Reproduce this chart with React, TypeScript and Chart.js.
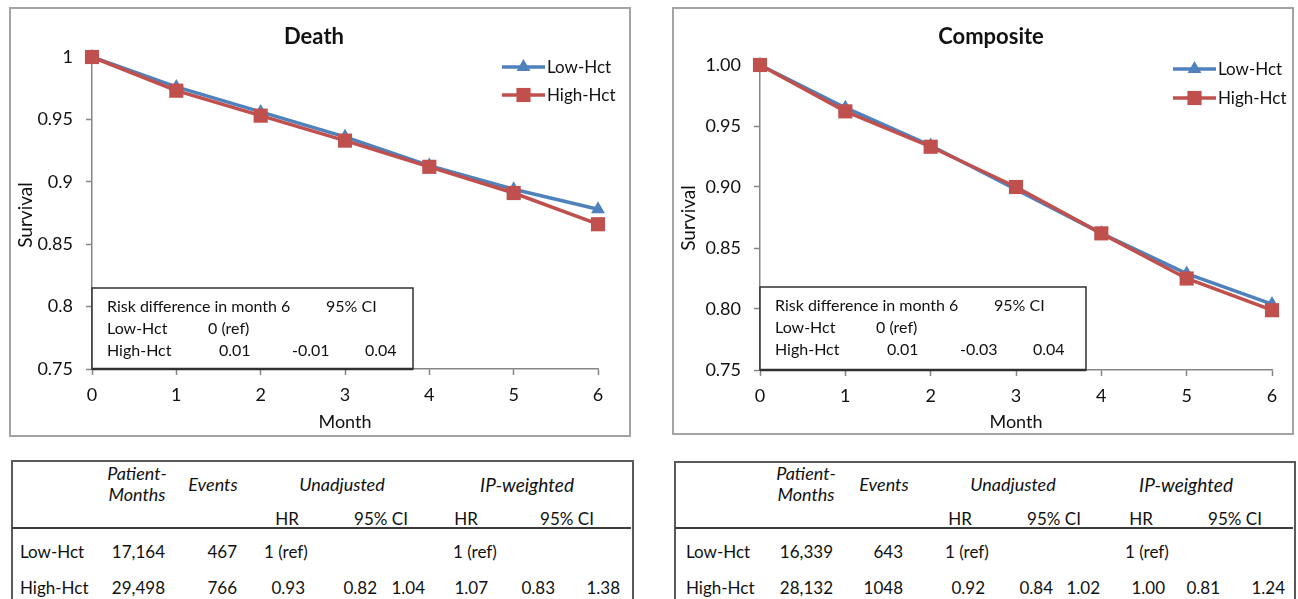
import React, { useEffect, useRef } from "react";
import { Chart, registerables } from "chart.js";

Chart.register(...registerables);

// ---------------- data ----------------
const months = [0, 1, 2, 3, 4, 5, 6];
const seriesNames = ["Low-Hct", "High-Hct"];

const deathLow = [1, 0.976, 0.956, 0.936, 0.913, 0.894, 0.878];
const deathHigh = [1, 0.973, 0.953, 0.933, 0.912, 0.891, 0.866];

const compositeLow = [1, 0.965, 0.934, 0.898, 0.862, 0.829, 0.804];
const compositeHigh = [1, 0.962, 0.933, 0.9, 0.862, 0.825, 0.799];

const deathYTickLabels = ["0.75", "0.8", "0.85", "0.9", "0.95", "1"];
const compositeYTickLabels = ["0.75", "0.80", "0.85", "0.90", "0.95", "1.00"];

const insetHeader = ["Risk difference in month 6", "95% CI"];
const insetRefRow = ["Low-Hct", "0 (ref)"];
const deathRiskDiff = ["High-Hct", "0.01", "-0.01", "0.04"];
const compositeRiskDiff = ["High-Hct", "0.01", "-0.03", "0.04"];

const tableHeaderTop = ["Patient-", "Months", "Events", "Unadjusted", "IP-weighted"];
const tableHeaderSub = ["HR", "95% CI", "HR", "95% CI"];
const rowLabels = ["Low-Hct", "High-Hct"];
const deathPatientMonths = ["17,164", "29,498"];
const deathEvents = ["467", "766"];
const deathUnadjusted = [["1 (ref)"], ["0.93", "0.82", "1.04"]];
const deathIPWeighted = [["1 (ref)"], ["1.07", "0.83", "1.38"]];
const compositePatientMonths = ["16,339", "28,132"];
const compositeEvents = ["643", "1048"];
const compositeUnadjusted = [["1 (ref)"], ["0.92", "0.84", "1.02"]];
const compositeIPWeighted = [["1 (ref)"], ["1.00", "0.81", "1.24"]];

// ---------------- style ----------------
const FONT = "Lato, 'Open Sans', sans-serif";
const BLUE = "#4F81BD";
const RED = "#C0504D";
const TEXT = "#111111";
const AXIS = "#868686";

function drawMarker(ctx: CanvasRenderingContext2D, style: string, x: number, y: number, r: number, color: string) {
  ctx.fillStyle = color;
  ctx.beginPath();
  if (style === "triangle") {
    ctx.moveTo(x, y - r);
    ctx.lineTo(x + r * 0.866, y + r * 0.5);
    ctx.lineTo(x - r * 0.866, y + r * 0.5);
    ctx.closePath();
  } else {
    const s = r * Math.SQRT1_2;
    ctx.rect(x - s, y - s, 2 * s, 2 * s);
  }
  ctx.fill();
}

const decorPlugin = {
  id: "decor",
  afterDraw(chart: any) {
    const o = chart.options.plugins.decor;
    if (!o) return;
    const ctx: CanvasRenderingContext2D = chart.ctx;
    const a = chart.chartArea;
    ctx.save();
    ctx.fillStyle = TEXT;
    ctx.textBaseline = "middle";
    ctx.textAlign = "center";
    ctx.font = `bold 22px ${FONT}`;
    ctx.fillText(o.title, o.titleX, o.titleY);
    ctx.font = `18px ${FONT}`;
    ctx.fillText(o.xTitle, o.xTitleX, o.xTitleY);
    ctx.save();
    ctx.translate(o.yTitleX, o.yTitleY);
    ctx.rotate(-Math.PI / 2);
    ctx.font = `19px ${FONT}`;
    ctx.fillText(o.yTitle, 0, 0);
    ctx.restore();

    // legend
    chart.data.datasets.forEach((ds: any, i: number) => {
      const y = o.legendY[i];
      const x0 = o.legendX;
      const x1 = x0 + 43;
      ctx.strokeStyle = ds.borderColor;
      ctx.lineWidth = 3.5;
      ctx.beginPath();
      ctx.moveTo(x0, y);
      ctx.lineTo(x1, y);
      ctx.stroke();
      drawMarker(ctx, ds.pointStyle, (x0 + x1) / 2, y, ds.pointRadius, ds.backgroundColor);
      ctx.fillStyle = TEXT;
      ctx.textAlign = "left";
      ctx.font = `17px ${FONT}`;
      ctx.fillText(ds.label, x1 + 2, y + 1);
    });

    // inset box
    const bx = a.left;
    const bw = o.insetW;
    const bh = o.insetH;
    const by = a.bottom - bh;
    ctx.fillStyle = "#ffffff";
    ctx.fillRect(bx, by, bw, bh);
    ctx.strokeStyle = "#303030";
    ctx.lineWidth = 1.5;
    ctx.strokeRect(bx, by, bw, bh);
    ctx.lineWidth = 2.5;
    ctx.beginPath();
    ctx.moveTo(bx, a.bottom);
    ctx.lineTo(bx + bw, a.bottom);
    ctx.stroke();

    ctx.fillStyle = TEXT;
    ctx.textAlign = "left";
    ctx.font = `16px ${FONT}`;
    const r1 = by + 19, r2 = by + 41, r3 = by + 63;
    ctx.fillText(o.insetHeader[0], bx + 15, r1);
    ctx.fillText(o.insetHeader[1], bx + 234, r1);
    ctx.fillText(o.insetRef[0], bx + 15, r2);
    ctx.fillText(o.insetRef[1], bx + 116, r2);
    ctx.fillText(o.insetRisk[0], bx + 15, r3);
    ctx.fillText(o.insetRisk[1], bx + 127, r3);
    ctx.fillText(o.insetRisk[2], bx + 200, r3);
    ctx.fillText(o.insetRisk[3], bx + 273, r3);
    ctx.restore();
  },
};

type PanelLayout = {
  left: number; top: number; width: number; height: number;
  areaLeft: number; areaRight: number; areaTop: number; areaBottom: number;
  titleX: number; titleY: number; xTitleX: number; xTitleY: number; yTitleX: number; yTitleY: number;
  legendX: number; legendY: number[]; insetW: number; insetH: number;
};

function SurvivalPanel(props: {
  title: string; low: number[]; high: number[]; yTickLabels: string[]; risk: string[]; layout: PanelLayout;
}) {
  const ref = useRef<HTMLCanvasElement | null>(null);
  const L = props.layout;
  useEffect(() => {
    if (!ref.current) return;
    const tickFont = { family: FONT, size: 18 };
    const chart = new Chart(ref.current, {
      type: "line",
      data: {
        datasets: [
          {
            label: seriesNames[0],
            data: months.map((m, i) => ({ x: m, y: props.low[i] })),
            borderColor: BLUE,
            backgroundColor: BLUE,
            borderWidth: 3.5,
            pointStyle: "triangle",
            pointRadius: 8,
            pointBorderWidth: 0,
            clip: false,
            order: 1,
            tension: 0,
          },
          {
            label: seriesNames[1],
            data: months.map((m, i) => ({ x: m, y: props.high[i] })),
            borderColor: RED,
            backgroundColor: RED,
            borderWidth: 3.5,
            pointStyle: "rect",
            pointRadius: 10,
            pointBorderWidth: 0,
            clip: false,
            order: 0,
            tension: 0,
          },
        ],
      },
      options: {
        animation: false,
        responsive: false,
        devicePixelRatio: 1,
        layout: {
          padding: { left: 0, top: L.areaTop, right: L.width - L.areaRight, bottom: 0 },
        },
        plugins: {
          legend: { display: false },
          tooltip: { enabled: false },
          title: { display: false },
          decor: {
            title: props.title,
            titleX: L.titleX, titleY: L.titleY,
            xTitle: "Month", xTitleX: L.xTitleX, xTitleY: L.xTitleY,
            yTitle: "Survival", yTitleX: L.yTitleX, yTitleY: L.yTitleY,
            legendX: L.legendX, legendY: L.legendY,
            insetW: L.insetW, insetH: L.insetH,
            insetHeader, insetRef: insetRefRow, insetRisk: props.risk,
          },
        } as any,
        scales: {
          x: {
            type: "linear",
            min: 0,
            max: 6,
            ticks: { stepSize: 1, color: TEXT, font: tickFont, padding: 9, maxRotation: 0 },
            grid: { display: true, drawOnChartArea: false, drawTicks: true, tickLength: 6, tickColor: AXIS, tickWidth: 1.5 },
            border: { display: true, color: AXIS, width: 1.5 },
            afterFit: (s: any) => { s.height = L.height - L.areaBottom; },
          },
          y: {
            type: "linear",
            min: 0.75,
            max: 1,
            ticks: {
              stepSize: 0.05,
              color: TEXT,
              font: tickFont,
              padding: 13,
              callback: (_v: any, i: number) => props.yTickLabels[i],
            },
            grid: { display: true, drawOnChartArea: false, drawTicks: true, tickLength: 6, tickColor: AXIS, tickWidth: 1.5 },
            border: { display: true, color: AXIS, width: 1.5 },
            afterFit: (s: any) => { s.width = L.areaLeft; },
          },
        },
      },
      plugins: [decorPlugin as any],
    } as any);
    return () => chart.destroy();
  }, []);
  return (
    <div
      style={{
        position: "absolute",
        left: L.left - 2,
        top: L.top - 2,
        width: L.width,
        height: L.height,
        border: "2px solid #a3a3a3",
        background: "#fff",
      }}
    >
      <canvas ref={ref} width={L.width} height={L.height} style={{ display: "block", width: L.width, height: L.height }} />
    </div>
  );
}

type TableLayout = {
  left: number; top: number; right: number; bottom: number; sepY: number;
  hdrY: number; pmY: number[]; subY: number; rowY: number[];
  labelX: number; pmR: number; evR: number; hdrC: number[]; subC: number[];
  unRef: number; unR: number[]; ipRef: number; ipR: number[];
};

function Txt(p: { x: number; y: number; align: "left" | "center" | "right"; italic?: boolean; size?: number; children: string }) {
  const tx = p.align === "left" ? "0" : p.align === "center" ? "-50%" : "-100%";
  return (
    <div
      style={{
        position: "absolute",
        left: p.x,
        top: p.y,
        transform: `translate(${tx}, -50%)`,
        whiteSpace: "nowrap",
        lineHeight: 1,
        fontFamily: FONT,
        fontSize: p.size || 17,
        fontStyle: p.italic ? "italic" : "normal",
        color: TEXT,
      }}
    >
      {p.children}
    </div>
  );
}

function StatsTable(props: {
  layout: TableLayout; pm: string[]; ev: string[]; un: string[][]; ip: string[][];
}) {
  const T = props.layout;
  const cells: any[] = [];
  cells.push(<Txt key="h0" x={T.hdrC[0]} y={T.pmY[0]} align="center" italic size={18}>{tableHeaderTop[0]}</Txt>);
  cells.push(<Txt key="h1" x={T.hdrC[0]} y={T.pmY[1]} align="center" italic size={18}>{tableHeaderTop[1]}</Txt>);
  cells.push(<Txt key="h2" x={T.hdrC[1]} y={T.hdrY} align="center" italic size={18}>{tableHeaderTop[2]}</Txt>);
  cells.push(<Txt key="h3" x={T.hdrC[2]} y={T.hdrY} align="center" italic size={18}>{tableHeaderTop[3]}</Txt>);
  cells.push(<Txt key="h4" x={T.hdrC[3]} y={T.hdrY} align="center" italic size={19}>{tableHeaderTop[4]}</Txt>);
  tableHeaderSub.forEach((s, i) => cells.push(<Txt key={"s" + i} x={T.subC[i]} y={T.subY} align="center">{s}</Txt>));
  rowLabels.forEach((lab, r) => {
    const y = T.rowY[r];
    cells.push(<Txt key={"l" + r} x={T.labelX} y={y} align="left">{lab}</Txt>);
    cells.push(<Txt key={"pm" + r} x={T.pmR} y={y} align="right">{props.pm[r]}</Txt>);
    cells.push(<Txt key={"ev" + r} x={T.evR} y={y} align="right">{props.ev[r]}</Txt>);
    const un = props.un[r];
    if (un.length === 1) cells.push(<Txt key={"un" + r} x={T.unRef} y={y} align="left">{un[0]}</Txt>);
    else un.forEach((v, j) => cells.push(<Txt key={"un" + r + j} x={T.unR[j]} y={y} align="right">{v}</Txt>));
    const ip = props.ip[r];
    if (ip.length === 1) cells.push(<Txt key={"ip" + r} x={T.ipRef} y={y} align="left">{ip[0]}</Txt>);
    else ip.forEach((v, j) => cells.push(<Txt key={"ip" + r + j} x={T.ipR[j]} y={y} align="right">{v}</Txt>));
  });
  return (
    <>
      <div
        style={{
          position: "absolute",
          left: T.left - 1,
          top: T.top - 1,
          width: T.right - T.left,
          height: T.bottom - T.top,
          border: "2px solid #5a5a5a",
        }}
      />
      <div
        style={{
          position: "absolute",
          left: T.left,
          top: T.sepY - 1,
          width: T.right - T.left,
          height: 2,
          background: "#3a3a3a",
        }}
      />
      {cells}
    </>
  );
}

const deathLayout: PanelLayout = {
  left: 11, top: 9, width: 618, height: 426,
  areaLeft: 81, areaRight: 587, areaTop: 48, areaBottom: 360,
  titleX: 303, titleY: 28, xTitleX: 334, xTitleY: 413, yTitleX: 15, yTitleY: 206,
  legendX: 491, legendY: [58, 86], insetW: 321, insetH: 81,
};
const compositeLayout: PanelLayout = {
  left: 674, top: 9, width: 618, height: 424,
  areaLeft: 86, areaRight: 598, areaTop: 56, areaBottom: 361,
  titleX: 317, titleY: 28, xTitleX: 342, xTitleY: 413, yTitleX: 15, yTitleY: 209,
  legendX: 499, legendY: [60, 89], insetW: 326, insetH: 83,
};

const deathTable: TableLayout = {
  left: 12, top: 461, right: 631, bottom: 600, sepY: 528,
  hdrY: 484, pmY: [473, 494], subY: 518, rowY: [551, 587],
  labelX: 20, pmR: 165, evR: 237, hdrC: [137, 213, 342, 527], subC: [287, 381, 466, 567],
  unRef: 264, unR: [305, 377, 425], ipRef: 453, ipR: [488, 555, 620],
};
const compositeTable: TableLayout = {
  left: 675, top: 462, right: 1293, bottom: 600, sepY: 528,
  hdrY: 484, pmY: [473, 494], subY: 518, rowY: [551, 587],
  labelX: 686, pmR: 833, evR: 903, hdrC: [806, 884, 1013, 1186], subC: [960, 1054, 1141, 1235],
  unRef: 945, unR: [985, 1053, 1100], ipRef: 1125, ipR: [1165, 1220, 1285],
};

export default function App() {
  return (
    <div style={{ position: "absolute", left: 0, top: 0, width: 1298, height: 599, background: "#fff", overflow: "hidden" }}>
      <SurvivalPanel title="Death" low={deathLow} high={deathHigh} yTickLabels={deathYTickLabels} risk={deathRiskDiff} layout={deathLayout} />
      <SurvivalPanel title="Composite" low={compositeLow} high={compositeHigh} yTickLabels={compositeYTickLabels} risk={compositeRiskDiff} layout={compositeLayout} />
      <StatsTable layout={deathTable} pm={deathPatientMonths} ev={deathEvents} un={deathUnadjusted} ip={deathIPWeighted} />
      <StatsTable layout={compositeTable} pm={compositePatientMonths} ev={compositeEvents} un={compositeUnadjusted} ip={compositeIPWeighted} />
    </div>
  );
}
